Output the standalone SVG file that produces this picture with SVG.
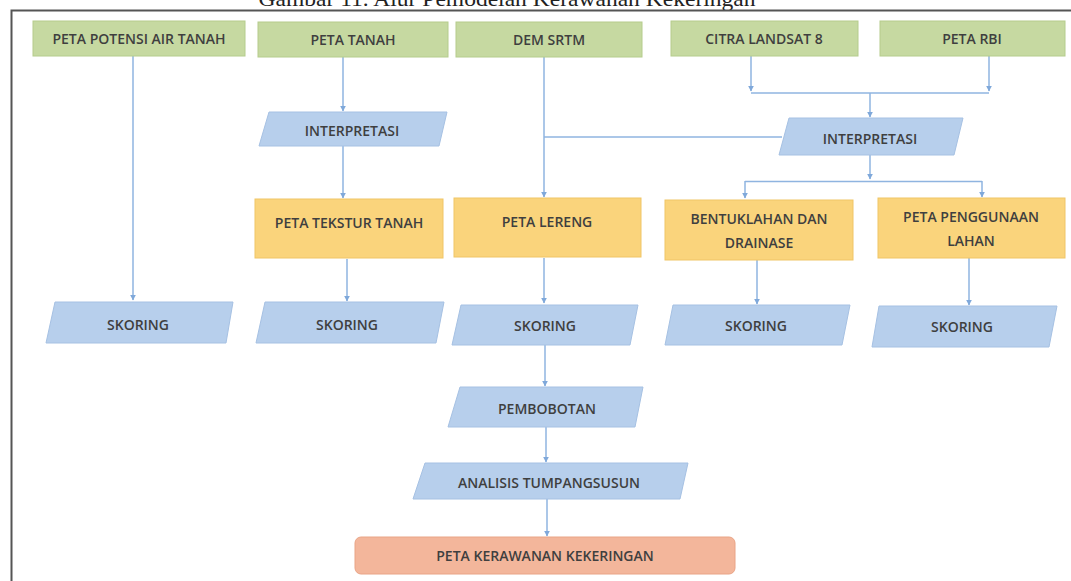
<svg xmlns="http://www.w3.org/2000/svg" width="1071" height="581" viewBox="0 0 1071 581">
  <style>
    .t { font-family: "Open Sans", "Liberation Sans", sans-serif; font-size: 14px; font-weight: 600; fill: #3f3f3f; text-anchor: middle; dominant-baseline: central; }
    .green { fill: #c6d9a1; stroke: #b5cc8c; stroke-width: 1; }
    .orange { fill: #fad47c; stroke: #f0c566; stroke-width: 1; }
    .blue { fill: #b7cfec; stroke: #a6c1e3; stroke-width: 1; }
    .red { fill: #f3b69b; stroke: #e9a486; stroke-width: 1; }
    .c { fill: none; stroke: #8fb4e0; stroke-width: 1.5; }
    .ca { fill: none; stroke: #8fb4e0; stroke-width: 1.5; marker-end: url(#ah); }
    .frame { stroke: #555; stroke-width: 2; fill: none; }
    .cap { font-family: "Liberation Serif", serif; font-size: 22px; fill: #222; text-anchor: middle; }
  </style>
  <defs>
    <marker id="ah" viewBox="0 0 10 10" refX="9" refY="5" markerWidth="4" markerHeight="4" orient="auto" markerUnits="strokeWidth">
      <path d="M0,0 L10,5 L0,10 z" fill="#7fa8da"/>
    </marker>
  </defs>

  <rect width="1071" height="581" fill="#ffffff"/>

  <!-- caption above the frame -->
  <text class="cap" x="507" y="6" textLength="497" lengthAdjust="spacingAndGlyphs">Gambar 11. Alur Pemodelan Kerawanan Kekeringan</text>

  <!-- frame -->
  <path class="frame" d="M11.5,581 V10.5 H1071"/>

  <!-- connectors -->
  <g id="connectors">
    <path class="ca" d="M133,56 V300"/>
    <path class="ca" d="M343,57 V111"/>
    <path class="ca" d="M343,146 V198"/>
    <path class="ca" d="M347,259 V301"/>
    <path class="ca" d="M544,57 V197"/>
    <path class="c" d="M544,137 H782"/>
    <path class="ca" d="M751,56 V91"/>
    <path class="ca" d="M989,56 V91"/>
    <path class="c" d="M751,93 H989"/>
    <path class="ca" d="M870,93 V117"/>
    <path class="ca" d="M870,155 V179"/>
    <path class="c" d="M745,181.5 H982"/>
    <path class="ca" d="M745,181 V198"/>
    <path class="ca" d="M982,181 V197"/>
    <path class="ca" d="M544,258 V303"/>
    <path class="ca" d="M757,260 V304"/>
    <path class="ca" d="M969,258 V305"/>
    <path class="ca" d="M545,345 V386"/>
    <path class="ca" d="M546,427 V462"/>
    <path class="ca" d="M547,499 V536"/>
  </g>

  <!-- source data -->
  <g id="peta-potensi-air-tanah">
    <rect class="green" x="33" y="21" width="212" height="35"/>
    <text class="t" x="139" y="38.5">PETA POTENSI AIR TANAH</text>
  </g>
  <g id="peta-tanah">
    <rect class="green" x="258" y="22" width="190" height="35"/>
    <text class="t" x="353" y="39.5">PETA TANAH</text>
  </g>
  <g id="dem-srtm">
    <rect class="green" x="456" y="22" width="186" height="35"/>
    <text class="t" x="549" y="39.5">DEM SRTM</text>
  </g>
  <g id="citra-landsat-8">
    <rect class="green" x="671" y="21" width="187" height="35"/>
    <text class="t" x="764" y="38.5">CITRA LANDSAT 8</text>
  </g>
  <g id="peta-rbi">
    <rect class="green" x="880" y="21" width="185" height="35"/>
    <text class="t" x="972" y="38.5">PETA RBI</text>
  </g>

  <!-- interpretation -->
  <g id="interpretasi-1">
    <polygon class="blue" points="269,112 447,112 439,146 259,146"/>
    <text class="t" x="352" y="130">INTERPRETASI</text>
  </g>
  <g id="interpretasi-2">
    <polygon class="blue" points="789,118 963,118 954,155 779,155"/>
    <text class="t" x="870" y="138">INTERPRETASI</text>
  </g>

  <!-- thematic maps -->
  <g id="peta-tekstur-tanah">
    <rect class="orange" x="255" y="199" width="188" height="59"/>
    <text class="t" x="349" y="222">PETA TEKSTUR TANAH</text>
  </g>
  <g id="peta-lereng">
    <rect class="orange" x="454" y="198" width="187" height="59"/>
    <text class="t" x="547" y="221">PETA LERENG</text>
  </g>
  <g id="bentuklahan-drainase">
    <rect class="orange" x="665" y="200" width="188" height="60"/>
    <text class="t" x="759" y="218">BENTUKLAHAN DAN</text>
    <text class="t" x="759" y="242">DRAINASE</text>
  </g>
  <g id="peta-penggunaan-lahan">
    <rect class="orange" x="878" y="198" width="187" height="60"/>
    <text class="t" x="971" y="216">PETA PENGGUNAAN</text>
    <text class="t" x="971" y="240">LAHAN</text>
  </g>

  <!-- scoring -->
  <g id="skoring-1">
    <polygon class="blue" points="55,302 233,302 226,343 46,343"/>
    <text class="t" x="138" y="324">SKORING</text>
  </g>
  <g id="skoring-2">
    <polygon class="blue" points="265,302 444,302 436,343 256,343"/>
    <text class="t" x="347" y="324">SKORING</text>
  </g>
  <g id="skoring-3">
    <polygon class="blue" points="461,305 638,305 630,345 452,345"/>
    <text class="t" x="545" y="325">SKORING</text>
  </g>
  <g id="skoring-4">
    <polygon class="blue" points="673,305 850,305 842,345 665,345"/>
    <text class="t" x="756" y="325">SKORING</text>
  </g>
  <g id="skoring-5">
    <polygon class="blue" points="879,306 1057,306 1049,347 872,347"/>
    <text class="t" x="962" y="326">SKORING</text>
  </g>

  <!-- weighting and overlay -->
  <g id="pembobotan">
    <polygon class="blue" points="460,387 643,387 635,427 448,427"/>
    <text class="t" x="547" y="408">PEMBOBOTAN</text>
  </g>
  <g id="analisis-tumpangsusun">
    <polygon class="blue" points="425,463 688,463 680,499 413,499"/>
    <text class="t" x="549" y="482">ANALISIS TUMPANGSUSUN</text>
  </g>

  <!-- result -->
  <g id="peta-kerawanan-kekeringan">
    <rect class="red" x="355" y="537" width="380" height="37" rx="6" ry="6"/>
    <text class="t" x="545" y="555">PETA KERAWANAN KEKERINGAN</text>
  </g>
</svg>
